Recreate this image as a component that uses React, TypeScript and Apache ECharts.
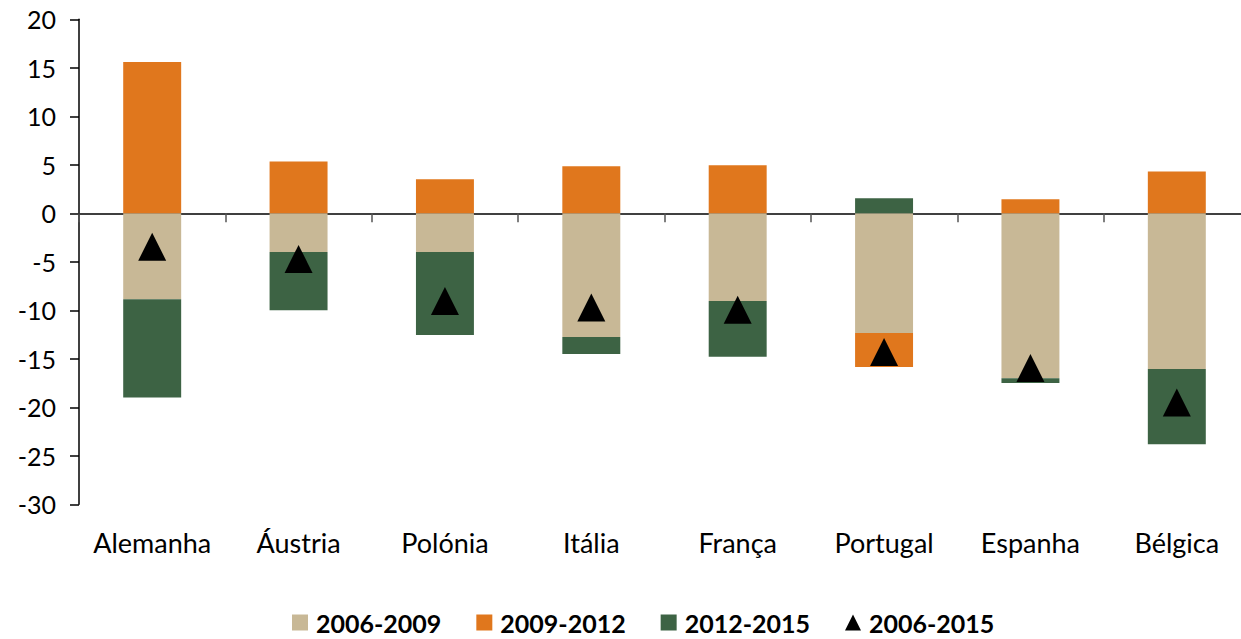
import React, { useEffect, useRef } from "react";
import * as echarts from "echarts";

const countries = ["Alemanha", "Áustria", "Polónia", "Itália", "França", "Portugal", "Espanha", "Bélgica"];
const p0609 = [-8.85, -4.0, -4.0, -12.75, -9.05, -12.35, -17.0, -16.05];
const p0912 = [15.6, 5.35, 3.5, 4.85, 4.95, -3.5, 1.45, 4.3];
const p1215 = [-10.15, -6.0, -8.55, -1.75, -5.75, 1.55, -0.5, -7.75];
const p0615 = [-3.45, -4.7, -9.05, -9.7, -9.95, -14.3, -15.95, -19.5];
const yTicks = { min: -30, max: 20, interval: 5 };

const FONT = "Lato";

export default function App() {
  const ref = useRef<HTMLDivElement>(null);
  useEffect(() => {
    const chart = echarts.init(ref.current!, null, { renderer: "svg" });
    chart.setOption({
      animation: false,
      backgroundColor: "#fff",
      textStyle: { fontFamily: FONT },
      grid: { left: 79, top: 19.3, width: 1171, height: 485, outerBoundsMode: "none", containLabel: false },
      legend: {
        left: 287,
        top: 605,
        itemWidth: 16,
        itemHeight: 16,
        itemGap: 35,
        textStyle: { fontSize: 25, fontWeight: "bold", color: "#000", fontFamily: FONT, padding: [0, 0, 0, 3] },
        data: [
          { name: "2006-2009", icon: "rect" },
          { name: "2009-2012", icon: "rect" },
          { name: "2012-2015", icon: "rect" },
          { name: "2006-2015", icon: "triangle", itemStyle: { color: "#000", opacity: 1 } },
        ],
      },
      xAxis: [
        {
          type: "category",
          data: countries,
          position: "bottom",
          axisLine: { show: false, onZero: false },
          axisTick: { show: false },
          axisLabel: { fontSize: 27, color: "#000", margin: 25, fontFamily: FONT, interval: 0 },
        },
        {
          type: "category",
          data: countries,
          position: "bottom",
          axisLine: { show: true, onZero: true, lineStyle: { color: "#000", width: 1.5 } },
          axisTick: { show: true, length: 9, interval: 0, lineStyle: { color: "#555", width: 1.5 } },
          axisLabel: { show: false },
        },
      ],
      yAxis: {
        type: "value",
        min: yTicks.min,
        max: yTicks.max,
        interval: yTicks.interval,
        axisLine: { show: true, lineStyle: { color: "#000", width: 1.5 } },
        axisTick: { show: true, length: 9, lineStyle: { color: "#000", width: 1.5 } },
        splitLine: { show: false },
        axisLabel: { fontSize: 25, color: "#000", margin: 23, fontFamily: FONT },
      },
      series: [
        {
          name: "2006-2009",
          type: "bar",
          stack: "a",
          data: p0609,
          barWidth: "39.6%",
          itemStyle: { color: "#C8B896" },
        },
        {
          name: "2009-2012",
          type: "bar",
          stack: "a",
          data: p0912,
          barWidth: "39.6%",
          itemStyle: { color: "#E0771D" },
        },
        {
          name: "2012-2015",
          type: "bar",
          stack: "a",
          data: p1215,
          barWidth: "39.6%",
          itemStyle: { color: "#3D6344" },
        },
        {
          name: "2006-2015",
          type: "scatter",
          data: p0615,
          symbol: "triangle",
          symbolSize: [28, 28],
          itemStyle: { color: "#000", opacity: 1 },
          z: 5,
        },
      ],
    });
    return () => chart.dispose();
  }, []);
  return <div ref={ref} style={{ position: "fixed", left: 0, top: 0, width: 1241, height: 639 }} />;
}
